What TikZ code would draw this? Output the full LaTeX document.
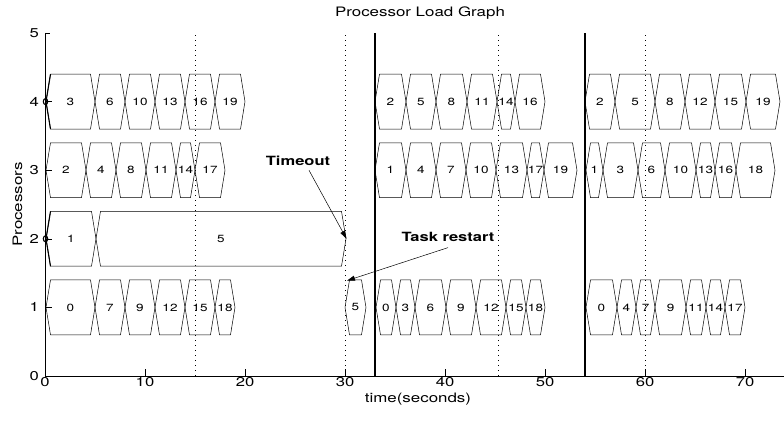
\documentclass[tikz,border=0pt]{standalone}
\usepackage{fontspec}
\setmainfont{TeX Gyre Heros}[FakeStretch=1.3]
\usetikzlibrary{arrows.meta}

\begin{document}
\begin{tikzpicture}[
            x=10pt, y=68.6pt,
            hex/.style={draw, line width=0.5pt},
            tasklbl/.style={font=\fontsize{10.4}{12}\selectfont, inner sep=0pt},
            ticklbl/.style={font=\fontsize{12.8}{14}\selectfont, inner sep=0pt},
            note/.style={font=\bfseries\fontsize{12.7}{14}\selectfont, inner sep=0pt},
            arrow/.style={-{Triangle[length=8pt, width=5pt]}, line width=0.5pt},
            axis/.style={line width=0.8pt},
            guide/.style={line width=0.6pt, dash pattern=on 0.7pt off 4.3pt},
            restartline/.style={line width=1.1pt},
            marker/.style={line width=1.1pt}
        ]
        \useasboundingbox (-4.5,-0.656) rectangle (73.9,5.481);

        % Checkpoints and restarts
        \draw [guide] (15,0) -- (15,5);
        \draw [guide] (30,0) -- (30,5);
        \draw [guide] (45.3,0) -- (45.3,5);
        \draw [guide] (60,0) -- (60,5);
        \draw [restartline] (33,0) -- (33,5);
        \draw [restartline] (54,0) -- (54,5);

        % Processor 4
        \foreach \a/\b/\l [count=\i] in {0.1/5/3, 5/8/6, 8/11/10, 11/14/13, 14/17/16, 17/20/19,
                33/36.1/2, 36.1/39.1/5, 39.1/42.2/8, 42.2/45.2/11, 45.2/47/14, 47/50/16,
                54/57/2, 57/61/5, 61/64/8, 64/67/12, 67/70.1/15, 70.1/73.5/19}{
            \draw [hex] (\a,4) -- (\a+0.45,4.4) -- (\b-0.45,4.4) -- (\b,4) -- (\b-0.45,3.6) -- (\a+0.45,3.6) -- cycle;
            \node [tasklbl] (p4-\i) at ({(\a+\b)/2},4) {\l};
        }

        % Processor 3
        \foreach \a/\b/\l [count=\i] in {0.1/4.1/2, 4.1/7.1/4, 7.1/10.1/8, 10.1/13.1/11, 13.1/15/14, 15/18/17,
                33/36.1/1, 36.1/39.1/4, 39.1/42.1/7, 42.1/45.1/10, 45.1/48.2/13, 48.2/49.9/17, 49.9/53.2/19,
                54.1/55.8/1, 55.8/59.3/3, 59.3/62/6, 62/65.1/10, 65.1/67/13, 67/69.1/16, 69.1/73/18}{
            \draw [hex] (\a,3) -- (\a+0.45,3.4) -- (\b-0.45,3.4) -- (\b,3) -- (\b-0.45,2.6) -- (\a+0.45,2.6) -- cycle;
            \node [tasklbl] (p3-\i) at ({(\a+\b)/2},3) {\l};
        }

        % Processor 2
        \foreach \a/\b/\l [count=\i] in {0.1/5.1/1, 5.1/30.1/5}{
            \draw [hex] (\a,2) -- (\a+0.45,2.4) -- (\b-0.45,2.4) -- (\b,2) -- (\b-0.45,1.6) -- (\a+0.45,1.6) -- cycle;
            \node [tasklbl] (p2-\i) at ({(\a+\b)/2},2) {\l};
        }

        % Processor 1
        \foreach \a/\b/\l [count=\i] in {0.1/5/0, 5/8/7, 8/11/9, 11/14/12, 14/17/15, 17/19/18, 30/32.1/5,
                33.1/35.1/0, 35.1/37/3, 37/40.1/6, 40.1/43.1/9, 43.1/46.1/12, 46.1/48.1/15, 48.1/50/18,
                54.1/57.2/0, 57.2/59.1/4, 59.1/61/7, 61/64.1/9, 64.1/66.1/11, 66.1/68/14, 68/70/17}{
            \draw [hex] (\a,1) -- (\a+0.45,1.4) -- (\b-0.45,1.4) -- (\b,1) -- (\b-0.45,0.6) -- (\a+0.45,0.6) -- cycle;
            \node [tasklbl] (p1-\i) at ({(\a+\b)/2},1) {\l};
        }

        % Start markers
        \draw [marker] (0.55,4.4) -- (0.1,4) -- (0.55,3.6);
        \draw [marker] (0.05,4) ellipse (2.2pt and 3pt);
        \draw [marker] (0.55,2.4) -- (0.1,2) -- (0.55,1.6);
        \draw [marker] (0.05,2) ellipse (2.2pt and 3pt);

        % Axes
        \draw [axis] (0,5) -- (0,0) -- (73.9,0);
        \draw [axis] (0,5) -- (0.5,5);
        \foreach \x in {10,20,...,70}
            \draw [line width=0.5pt] (\x,0) -- (\x,0.1);
        \foreach \y in {1,...,4}
            \draw [line width=0.5pt] (0,\y) -- (0.7,\y);
        \foreach \x in {0,10,...,70}
            \node [ticklbl] (xt\x) at (\x,-0.085) {\x};
        \foreach \y in {0,...,5}
            \node [ticklbl, anchor=east] (yt\y) at (-0.6,\y) {\y};

        \node [font=\fontsize{13}{15}\selectfont] (title) at (37.5,5.29) {Processor Load Graph};
        \node [font=\fontsize{13}{15}\selectfont] (xlabel) at (37.3,-0.33) {time(seconds)};
        \node [font=\fontsize{13}{15}\selectfont, rotate=90] (ylabel) at (-2.75,2.5) {Processors};

        % Annotations
        \node [note] (timeout) at (25.3,3.13) {Timeout};
        \coordinate (timeout-tip) at (30.15,2);
        \draw [arrow] ([shift={(11pt,-4pt)}]timeout.south) -- (timeout-tip);

        \node [note] (restart) at (40.3,2.03) {Task restart};
        \coordinate (restart-tip) at (30.2,1.39);
        \draw [arrow] ([yshift=-6pt]restart.south) -- (restart-tip);
\end{tikzpicture}
\end{document}
